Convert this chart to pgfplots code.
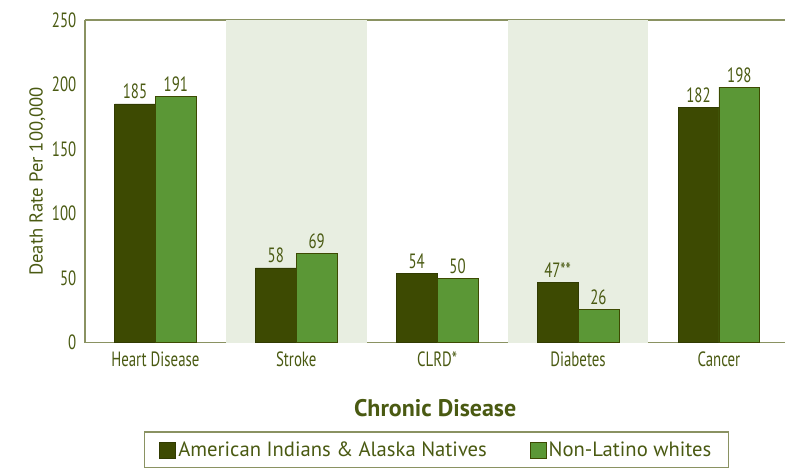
\documentclass[border=0pt]{standalone}
\usepackage{pgfplots}
\pgfplotsset{compat=1.18}
\usepackage{fontspec}
\setmainfont{PT Sans}
\newfontfamily\condfont[FakeStretch=0.72]{PT Sans}
\definecolor{aian}{HTML}{3D4A02}
\definecolor{nlw}{HTML}{5B9736}
\definecolor{shade}{HTML}{E8EEE1}
\definecolor{txt}{HTML}{4A5A12}
\definecolor{frame}{HTML}{8A9262}
\begin{document}
\begin{tikzpicture}
\begin{axis}[
  scale only axis, width=525.75pt, height=242.25pt,
  xmin=-0.5, xmax=4.472, ymin=0, ymax=250,
  axis x line*=box, axis y line*=left,
  axis line style={frame, line width=0.9pt},
  xtick={0,1,2,3,4},
  xticklabels={Heart Disease,Stroke,CLRD*,Diabetes,Cancer},
  ytick={0,50,100,150,200,250},
  major tick length=0pt,
  tick label style={font=\condfont\fontsize{15.5}{17}\selectfont, text=txt},
  /pgf/number format/assume math mode=true,
  xticklabel style={yshift=-3pt},
  yticklabel style={xshift=-3pt},
  ylabel={Death Rate Per 100,000},
  ylabel style={font=\fontsize{14}{16}\selectfont, text=txt, yshift=-2pt},
  xlabel={\bfseries Chronic Disease},
  xlabel style={font=\fontsize{18}{20}\selectfont, text=txt, yshift=-18pt},
  legend columns=2,
  legend style={at={(0.502,-0.275)}, anchor=north, draw=frame, line width=0.9pt,
    font=\fontsize{15.5}{17}\selectfont, text=txt, inner xsep=11pt, inner ysep=5pt,
    /tikz/every even column/.append style={column sep=30pt}},
  legend image code/.code={\draw[#1, line width=0.4pt] (0pt,-6pt) rectangle (12pt,6pt);},
  nodes near coords style={font=\condfont\fontsize{15.5}{17}\selectfont, text=txt},
  clip=false,
]
\addplot[fill=shade, draw=none, forget plot] coordinates {(0.5,0) (0.5,250) (1.5,250) (1.5,0)} -- cycle;
\addplot[fill=shade, draw=none, forget plot] coordinates {(2.5,0) (2.5,250) (3.5,250) (3.5,0)} -- cycle;
\addplot[ybar, bar width=0.29, bar shift=-0.145, fill=aian, draw=aian!80!black, line width=0.5pt,
  point meta=explicit symbolic, nodes near coords,
  every node near coord/.append style={xshift=-15.33pt}]
  coordinates {(0,185)[185] (1,58)[58] (2,54)[54] (3,47)[47**] (4,182)[182]};
\addplot[ybar, bar width=0.29, bar shift=0.145, fill=nlw, draw=aian, line width=0.5pt,
  point meta=explicit symbolic, nodes near coords,
  every node near coord/.append style={xshift=15.33pt}]
  coordinates {(0,191)[191] (1,69)[69] (2,50)[50] (3,26)[26] (4,198)[198]};
\legend{American Indians \& Alaska Natives, Non-Latino whites}
\end{axis}
\useasboundingbox (-63.75pt,-95.25pt) rectangle (525.75pt,257.25pt);
\end{tikzpicture}
\end{document}
